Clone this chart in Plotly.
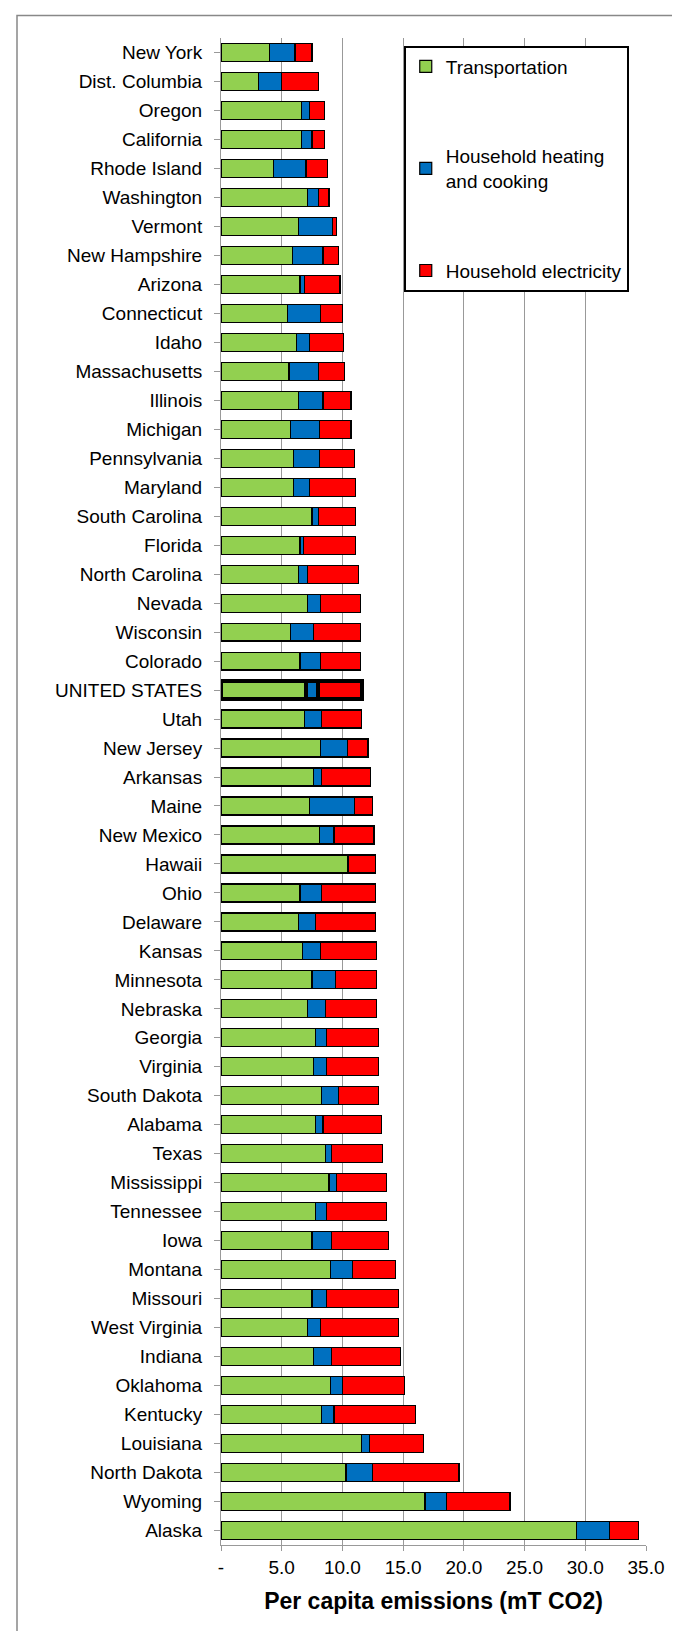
import plotly.graph_objects as go

states = ["New York", "Dist. Columbia", "Oregon", "California", "Rhode Island", "Washington",
          "Vermont", "New Hampshire", "Arizona", "Connecticut", "Idaho", "Massachusetts",
          "Illinois", "Michigan", "Pennsylvania", "Maryland", "South Carolina", "Florida",
          "North Carolina", "Nevada", "Wisconsin", "Colorado", "UNITED STATES", "Utah",
          "New Jersey", "Arkansas", "Maine", "New Mexico", "Hawaii", "Ohio", "Delaware",
          "Kansas", "Minnesota", "Nebraska", "Georgia", "Virginia", "South Dakota", "Alabama",
          "Texas", "Mississippi", "Tennessee", "Iowa", "Montana", "Missouri", "West Virginia",
          "Indiana", "Oklahoma", "Kentucky", "Louisiana", "North Dakota", "Wyoming", "Alaska"]

transport = [4.0, 3.1, 6.6, 6.6, 4.3, 7.1, 6.4, 5.9, 6.5, 5.5, 6.2, 5.6,
             6.4, 5.7, 6.0, 6.0, 7.5, 6.5, 6.4, 7.1, 5.7, 6.5, 7.0, 6.9,
             8.2, 7.6, 7.3, 8.1, 10.4, 6.5, 6.4, 6.7, 7.5, 7.1, 7.8, 7.6, 8.3, 7.8,
             8.6, 8.9, 7.8, 7.5, 9.0, 7.5, 7.1, 7.6, 9.0, 8.3, 11.6, 10.3, 16.8, 29.3]
heating = [2.1, 1.9, 0.7, 0.9, 2.7, 0.9, 2.8, 2.5, 0.4, 2.7, 1.1, 2.4,
           2.0, 2.4, 2.1, 1.3, 0.5, 0.3, 0.7, 1.1, 1.9, 1.7, 1.0, 1.4,
           2.2, 0.7, 3.7, 1.2, 0.1, 1.8, 1.4, 1.5, 1.9, 1.5, 0.9, 1.1, 1.4, 0.6,
           0.5, 0.6, 0.9, 1.6, 1.8, 1.2, 1.1, 1.5, 1.0, 1.0, 0.6, 2.2, 1.8, 2.7]
electric = [1.4, 3.0, 1.2, 1.0, 1.8, 0.9, 0.3, 1.3, 2.9, 1.8, 2.8, 2.2,
            2.3, 2.6, 2.9, 3.8, 3.1, 4.3, 4.2, 3.3, 3.9, 3.3, 3.6, 3.3,
            1.7, 4.0, 1.5, 3.3, 2.2, 4.4, 4.9, 4.6, 3.4, 4.2, 4.3, 4.3, 3.3, 4.8,
            4.2, 4.1, 4.9, 4.7, 3.6, 5.9, 6.4, 5.7, 5.1, 6.75, 4.5, 7.1, 5.2, 2.4]

ticks = [0, 5, 10, 15, 20, 25, 30, 35]
tick_text = ["-", "5.0", "10.0", "15.0", "20.0", "25.0", "30.0", "35.0"]

line_w = [4 if s == "UNITED STATES" else 1.2 for s in states]

fig = go.Figure()
for name, vals, col in [("Transportation", transport, "#92D050"),
                        ("Household heating<br>and cooking", heating, "#0070C0"),
                        ("Household electricity", electric, "#FF0000")]:
    fig.add_trace(go.Bar(y=states, x=vals, name=name, orientation="h",
                         marker=dict(color=col, line=dict(color="black", width=line_w)),
                         width=0.62, legendgroup=name))

fig.update_layout(
    barmode="stack", width=680, height=1631,
    margin=dict(l=213, r=42, t=30, b=94),
    paper_bgcolor="white", plot_bgcolor="white",
    font=dict(family="Liberation Sans, Arial", size=19, color="black"),
    legend=dict(x=0.43, y=0.995, xanchor="left", yanchor="top", traceorder="grouped",
                bordercolor="black", borderwidth=2, bgcolor="white",
                tracegroupgap=62, font=dict(size=19), itemwidth=30),
    shapes=[dict(type="rect", xref="paper", yref="paper", x0=-0.48, x1=1.08, y0=-0.06, y1=1.015,
                 line=dict(color="#888888", width=1.5))],
)
fig.update_xaxes(range=[0, 35], tickvals=ticks, ticktext=tick_text, showgrid=True,
                 gridcolor="#999999", gridwidth=1, showline=True, linecolor="#999999",
                 ticks="outside", tickcolor="#999999", ticklen=5,
                 title=dict(text="<b>Per capita emissions (mT CO2)</b>", standoff=16))
fig.update_yaxes(autorange="reversed", showline=True, linecolor="#999999",
                 ticks="outside", tickcolor="#999999", ticklen=6, ticklabelstandoff=8)

fig.write_html("out.html")
